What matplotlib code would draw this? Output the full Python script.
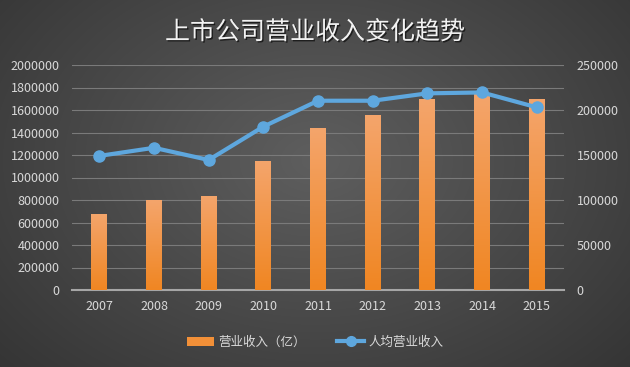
import numpy as np
import matplotlib
matplotlib.use("Agg")
import matplotlib.pyplot as plt
import matplotlib.patheffects as pe
from matplotlib.lines import Line2D
from matplotlib.patches import Patch
from matplotlib.ticker import FuncFormatter

plt.rcParams['font.family'] = ['Noto Sans CJK SC', 'DejaVu Sans']

years = ['2007', '2008', '2009', '2010', '2011', '2012', '2013', '2014', '2015']
revenue = [677000, 800000, 838000, 1147000, 1443000, 1556000, 1695000, 1750000, 1698000]
per_capita = [149000, 158000, 144500, 181500, 210300, 210300, 218500, 219500, 203000]

title = '上市公司营业收入变化趋势'
bar_label = '营业收入（亿）'
line_label = '人均营业收入'

txt = '#d9d9d9'
grid_c = '#7a7a7a'
line_c = '#5ea7de'

fig = plt.figure(figsize=(6.3, 3.67), dpi=100)

# radial grey background
bg = fig.add_axes([0, 0, 1, 1], zorder=-10)
yy, xx = np.mgrid[0:367, 0:630]
r = np.sqrt(((xx - 315) / 420.0) ** 2 + ((yy - 160) / 300.0) ** 2)
shade = np.clip(0.37 - 0.16 * r, 0.2, 0.4)
bg.imshow(np.dstack([shade] * 3), aspect='auto', extent=[0, 1, 0, 1])
bg.axis('off')

ax = fig.add_axes([72 / 630, 77 / 367, 492 / 630, 225 / 367])
ax.patch.set_alpha(0)
x = np.arange(len(years))

bars = ax.bar(x, revenue, width=0.29, color='#f29038', zorder=2)
# vertical gradient inside each bar
grad = np.linspace(0, 1, 256).reshape(-1, 1)
cols = np.zeros((256, 1, 3))
top = np.array([0xf4, 0xa5, 0x6c]) / 255
bot = np.array([0xf0, 0x86, 0x22]) / 255
cols[:, 0, :] = top * grad + bot * (1 - grad)
for b in bars:
    bx, by = b.get_x(), b.get_y()
    w, h = b.get_width(), b.get_height()
    im = ax.imshow(cols, extent=[bx, bx + w, by, by + h], origin='lower',
                   aspect='auto', zorder=3)
    im.set_clip_path(b)

plain = FuncFormatter(lambda v, p: '%d' % v)

ax.set_xlim(-0.5, len(years) - 0.5)
ax.set_ylim(0, 2000000)
ax.set_yticks(np.arange(0, 2000001, 200000))
ax.yaxis.set_major_formatter(plain)
ax.yaxis.grid(True, color=grid_c, linewidth=0.8)
ax.set_axisbelow(True)
ax.set_xticks(x)
ax.set_xticklabels(years)
ax.tick_params(axis='both', length=0, colors=txt, labelsize=9)
ax.tick_params(axis='y', pad=9)
ax.tick_params(axis='x', pad=7)
for s in ['top', 'right', 'left']:
    ax.spines[s].set_visible(False)
ax.spines['bottom'].set_color('#a6a6a6')
ax.spines['bottom'].set_linewidth(1.5)

ax2 = ax.twinx()
ax2.plot(x, per_capita, color=line_c, linewidth=3, marker='o', markersize=8,
         zorder=5)
ax2.set_ylim(0, 250000)
ax2.set_yticks(np.arange(0, 250001, 50000))
ax2.yaxis.set_major_formatter(plain)
ax2.tick_params(axis='y', length=0, colors=txt, labelsize=9, pad=9)
for s in ax2.spines.values():
    s.set_visible(False)

fig.text(0.5, 0.912, title, ha='center', va='center', fontsize=18, color='#f2f2f2',
         path_effects=[pe.withSimplePatchShadow(offset=(1, -1), shadow_rgbFace='black', alpha=0.6)])

handles = [Patch(facecolor='#f29038', edgecolor='none'),
           Line2D([0], [0], color=line_c, linewidth=3, marker='o', markersize=7)]
leg = fig.legend(handles, [bar_label, line_label], loc='center', bbox_to_anchor=(0.5, 0.068),
                 ncol=2, frameon=False, fontsize=9, handlelength=2.2, columnspacing=2.5,
                 handletextpad=0.3)
for t in leg.get_texts():
    t.set_color(txt)

fig.savefig('out.png', dpi=100)
